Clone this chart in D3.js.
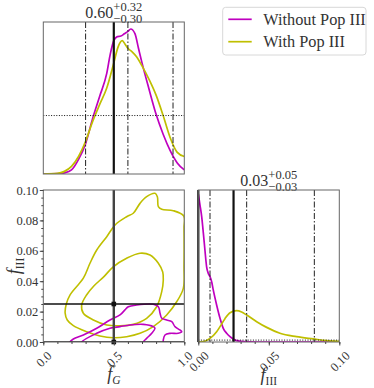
<!DOCTYPE html>
<html>
<head>
<meta charset="utf-8">
<script src="https://cdn.jsdelivr.net/npm/d3@7"></script>
<style>
body { margin: 0; background: #fff; }
text { font-family: "Liberation Serif", "DejaVu Serif", serif; fill: #333; }
</style>
</head>
<body>
<svg id="chart" width="374" height="388"></svg>
<script>

// ---- values ----
// 1D posterior of f_G (density)
var fgNoPop3X    = [0, 0.1, 0.15, 0.2, 0.25, 0.3, 0.35, 0.4, 0.45, 0.475, 0.5, 0.525, 0.55, 0.575, 0.6, 0.62, 0.65, 0.675, 0.7, 0.75, 0.8, 0.85, 0.9, 0.95, 1.0];
var fgNoPop3Dens = [0, 0.005, 0.02, 0.07, 0.25, 0.52, 0.95, 1.33, 1.72, 2.05, 2.28, 2.35, 2.36, 2.40, 2.44, 2.48, 2.40, 2.15, 1.90, 1.45, 1.02, 0.68, 0.40, 0.19, 0.07];
var fgPop3X      = [0, 0.1, 0.15, 0.2, 0.25, 0.3, 0.35, 0.4, 0.45, 0.5, 0.53, 0.56, 0.58, 0.6, 0.63, 0.66, 0.7, 0.75, 0.8, 0.85, 0.9, 0.95, 1.0];
var fgPop3Dens   = [0, 0.01, 0.045, 0.13, 0.30, 0.56, 0.90, 1.19, 1.47, 1.90, 2.17, 2.28, 2.22, 2.15, 2.09, 2.01, 1.85, 1.62, 1.35, 1.00, 0.62, 0.37, 0.30];

// 1D posterior of f_III (density)
var f3NoPop3X    = [0, 0.0005, 0.0012, 0.0024, 0.0036, 0.0047, 0.0059, 0.0071, 0.0083, 0.0095, 0.0106, 0.013, 0.0154, 0.0177, 0.0201, 0.0225, 0.0248, 0.0272, 0.0319, 0.0414, 0.06, 0.1];
var f3NoPop3Dens = [78, 75.6, 72.1, 66, 57.2, 48.4, 39.6, 36.1, 34.4, 31.6, 27.4, 19.5, 12.5, 7.2, 4.6, 2.8, 1.6, 0.7, 0.18, 0, 0, 0];
var f3Pop3X      = [0, 0.0035, 0.0083, 0.013, 0.0154, 0.0189, 0.0225, 0.0272, 0.0307, 0.0343, 0.0414, 0.0485, 0.0579, 0.0697, 0.0816, 0.091, 0.1];
var f3Pop3Dens   = [0, 0.2, 1.9, 5.4, 8.1, 12.3, 15.4, 16.5, 15.8, 14.2, 10.7, 7.7, 4.6, 2.8, 1.6, 0.7, 0.35];

// 2D credible contours [f_G, f_III]
var pop3Outer = [[0.189,0.0309],[0.163,0.025],[0.155,0.019],[0.17,0.0145],[0.213,0.0108],[0.308,0.0068],[0.402,0.0040],[0.496,0.0028],[0.591,0.0035],[0.686,0.0057],[0.780,0.0101],[0.875,0.0178],[0.946,0.0265],[0.993,0.0353],[0.998,0.05],[0.998,0.075],[0.996,0.0829],[0.922,0.0864],[0.840,0.0873],[0.816,0.0890],[0.809,0.0956],[0.792,0.0978],[0.733,0.0956],[0.686,0.0912],[0.638,0.0847],[0.591,0.0824],[0.509,0.0770],[0.450,0.0693],[0.379,0.0605],[0.331,0.0518],[0.284,0.0420]];
var pop3Inner = [[0.272,0.0243],[0.284,0.0189],[0.355,0.0145],[0.450,0.0112],[0.544,0.0107],[0.638,0.0116],[0.733,0.0156],[0.804,0.0232],[0.840,0.0331],[0.851,0.0408],[0.847,0.046],[0.816,0.0518],[0.757,0.0572],[0.686,0.0584],[0.591,0.0551],[0.496,0.0495],[0.43,0.043],[0.36,0.037],[0.308,0.0311]];
var noPop3Outer = [[0.185,-0.002],[0.189,0],[0.213,0.002],[0.284,0.0046],[0.379,0.009],[0.473,0.0145],[0.544,0.0178],[0.579,0.0211],[0.603,0.0232],[0.662,0.0243],[0.780,0.0248],[0.816,0.0232],[0.828,0.0189],[0.840,0.0156],[0.875,0.0145],[0.911,0.0134],[0.934,0.0101],[0.969,0.0079],[0.982,0.0068],[0.957,0.0057],[0.899,0.0057],[0.863,0.0046],[0.851,0.0013],[0.851,-0.002]];
var noPop3Inner = [[0.268,-0.002],[0.272,0],[0.379,0.0057],[0.473,0.009],[0.544,0.0101],[0.615,0.0112],[0.709,0.0116],[0.780,0.0101],[0.792,0.009],[0.769,0.0057],[0.733,0.0024],[0.709,0],[0.705,-0.002]];

// quantiles, truths, prior level
var fgQuantiles = [0.30, 0.60, 0.92];
var f3Quantiles = [0.0083, 0.0343, 0.0823];
var fgTruths = [0.5];
var f3Truths = [0, 0.025];
var priorLevel = 1;

// labels and ticks
var seriesNames = ["Without Pop III", "With Pop III"];
var seriesColors = ["#bf00bf", "#bfbf00"];
var fgTicks = [0, 0.5, 1.0];
var fgMinorTicks = [0, 0.1, 0.2, 0.3, 0.4, 0.5, 0.6, 0.7, 0.8, 0.9, 1.0];
var f3Ticks = [0, 0.02, 0.04, 0.06, 0.08, 0.10];
var f3MinorTicks = d3.range(0, 0.1001, 0.005);
var f3TicksRight = [0, 0.05, 0.10];
var f3MinorTicksRight = d3.range(0, 0.1001, 0.01);

// ---- layout ----
var svg = d3.select("#chart");
var L = {x0: 43.3, x1: 184.3}, R = {x0: 198.3, x1: 339.3};
var upper = {y0: 22, y1: 174}, lower = {y0: 190, y1: 342};

var xFg = d3.scaleLinear().domain([0, 1]).range([L.x0, L.x1]);
var yTop = d3.scaleLinear().domain([0, 2.6]).range([upper.y1, upper.y0]);
var yF3 = d3.scaleLinear().domain([0, 0.1]).range([lower.y1, lower.y0]);
var xF3 = d3.scaleLinear().domain([0, 0.1]).range([R.x0, R.x1]);
var yBR = d3.scaleLinear().domain([0, 80]).range([lower.y1, lower.y0]);

var dashdot = "6,2,1.5,2";

// titles like 0.60^{+0.32}_{-0.30}, one text element each
function title(cx, base, main, sup, sub) {
  var t = svg.append("text").attr("y", base).style("font-size", "16px");
  var m = t.append("tspan").text(main);
  var s1 = t.append("tspan").attr("dy", -7.2).style("font-size", "12.5px").text(sup);
  var s2 = t.append("tspan").attr("dy", 11.6).style("font-size", "12.5px").text(sub);
  var w = m.node().getComputedTextLength();
  var w1 = s1.node().getComputedTextLength();
  var w2 = s2.node().getComputedTextLength();
  s2.attr("dx", -w1);
  t.attr("x", cx - (w + Math.max(w1, w2)) / 2);
}
title((L.x0 + L.x1) / 2, 18.3, "0.60", "+0.32", "\u22120.30");
title((R.x0 + R.x1) / 2, 186.3, "0.03", "+0.05", "\u22120.03");

// clip paths
function clip(id, x0, x1, y0, y1) {
  svg.append("clipPath").attr("id", id).append("rect")
    .attr("x", x0).attr("y", y0).attr("width", x1 - x0).attr("height", y1 - y0);
}
clip("cTop", L.x0, L.x1, upper.y0, upper.y1);
clip("cBL", L.x0, L.x1, lower.y0, lower.y1);
clip("cBR", R.x0, R.x1, lower.y0, lower.y1);

// ---- top panel: f_G marginal ----
var lineTop = d3.line().x(d => xFg(d[0])).y(d => yTop(d[1])).curve(d3.curveMonotoneX);
var gTop = svg.append("g").attr("clip-path", "url(#cTop)");
gTop.append("path").datum(d3.zip(fgNoPop3X, fgNoPop3Dens))
  .attr("d", lineTop).attr("fill", "none").attr("stroke", seriesColors[0]).attr("stroke-width", 1.7);
gTop.append("path").datum(d3.zip(fgPop3X, fgPop3Dens))
  .attr("d", lineTop).attr("fill", "none").attr("stroke", seriesColors[1]).attr("stroke-width", 1.7);

gTop.selectAll(".q").data(fgQuantiles).enter().append("line")
  .attr("x1", d => xFg(d)).attr("x2", d => xFg(d))
  .attr("y1", upper.y0).attr("y2", upper.y1)
  .attr("stroke", "#222").attr("stroke-width", 1).attr("stroke-dasharray", dashdot);
gTop.append("line")
  .attr("x1", L.x0).attr("x2", L.x1).attr("y1", yTop(priorLevel)).attr("y2", yTop(priorLevel))
  .attr("stroke", "#111").attr("stroke-width", 1).attr("stroke-dasharray", "1,1.6");
gTop.selectAll(".t").data(fgTruths).enter().append("line")
  .attr("x1", d => xFg(d)).attr("x2", d => xFg(d))
  .attr("y1", upper.y0).attr("y2", upper.y1)
  .attr("stroke", "#111").attr("stroke-width", 2.2);

// ---- bottom-left: 2D contours ----
var lineBL = d3.line().x(d => xFg(d[0])).y(d => yF3(d[1]));
var gBL = svg.append("g").attr("clip-path", "url(#cBL)");
[pop3Outer, pop3Inner].forEach(function(c) {
  gBL.append("path").datum(c)
    .attr("d", lineBL.curve(d3.curveCatmullRomClosed))
    .attr("fill", "none").attr("stroke", seriesColors[1]).attr("stroke-width", 1.6);
});
[noPop3Outer, noPop3Inner].forEach(function(c) {
  gBL.append("path").datum(c)
    .attr("d", lineBL.curve(d3.curveCatmullRom))
    .attr("fill", "none").attr("stroke", seriesColors[0]).attr("stroke-width", 1.6);
});
gBL.selectAll(".tv").data(fgTruths).enter().append("line")
  .attr("x1", d => xFg(d)).attr("x2", d => xFg(d))
  .attr("y1", lower.y0).attr("y2", lower.y1)
  .attr("stroke", "#444").attr("stroke-width", 2.4);
gBL.selectAll(".th").data(f3Truths).enter().append("line")
  .attr("x1", L.x0).attr("x2", L.x1)
  .attr("y1", d => yF3(d)).attr("y2", d => yF3(d))
  .attr("stroke", "#111").attr("stroke-width", 1.6);
svg.selectAll(".mk").data(f3Truths).enter().append("rect")
  .attr("x", xFg(fgTruths[0]) - 2.3).attr("y", d => yF3(d) - 2.3)
  .attr("width", 4.6).attr("height", 4.6).attr("fill", "#111");

// ---- bottom-right: f_III marginal ----
var lineBR = d3.line().x(d => xF3(d[0])).y(d => yBR(d[1])).curve(d3.curveMonotoneX);
var gBR = svg.append("g").attr("clip-path", "url(#cBR)");
gBR.append("path").datum(d3.zip(f3NoPop3X, f3NoPop3Dens))
  .attr("d", lineBR).attr("fill", "none").attr("stroke", seriesColors[0]).attr("stroke-width", 1.7);
gBR.append("path").datum(d3.zip(f3Pop3X, f3Pop3Dens))
  .attr("d", lineBR).attr("fill", "none").attr("stroke", seriesColors[1]).attr("stroke-width", 1.7);
gBR.selectAll(".q").data(f3Quantiles).enter().append("line")
  .attr("x1", d => xF3(d)).attr("x2", d => xF3(d))
  .attr("y1", lower.y0).attr("y2", lower.y1)
  .attr("stroke", "#222").attr("stroke-width", 1).attr("stroke-dasharray", dashdot);
gBR.append("line")
  .attr("x1", R.x0).attr("x2", R.x1).attr("y1", yBR(priorLevel)).attr("y2", yBR(priorLevel))
  .attr("stroke", "#111").attr("stroke-width", 1).attr("stroke-dasharray", "1,1.6");
svg.selectAll(".t3").data(f3Truths).enter().append("line")
  .attr("x1", d => xF3(d)).attr("x2", d => xF3(d))
  .attr("y1", lower.y0).attr("y2", lower.y1)
  .attr("stroke", "#111").attr("stroke-width", 2.2);

// ---- frames ----
[[L, upper], [L, lower], [R, lower]].forEach(function(p) {
  svg.append("rect").attr("x", p[0].x0).attr("y", p[1].y0)
    .attr("width", p[0].x1 - p[0].x0).attr("height", p[1].y1 - p[1].y0)
    .attr("fill", "none").attr("stroke", "#666").attr("stroke-width", 1);
});

// ---- axes ----
function rotateLabels(sel) {
  sel.selectAll(".tick text").each(function() {
    var t = d3.select(this);
    var w = this.getComputedTextLength();
    var off = 7 + (w + 13) / (2 * Math.SQRT2);
    t.attr("y", 0).attr("dy", "0.35em").attr("text-anchor", "middle")
      .attr("transform", "translate(0," + off + ") rotate(-45)");
  });
}
function styleAxis(g) {
  g.select(".domain").remove();
  g.selectAll(".tick line").attr("stroke", "#444");
  g.selectAll(".tick text").style("font-size", "12.5px").attr("fill", "#333")
    .style("font-family", "'Liberation Serif', 'DejaVu Serif', serif");
}

svg.append("g").attr("transform", "translate(0," + lower.y1 + ")")
  .call(d3.axisBottom(xFg).tickValues(fgMinorTicks).tickSize(2).tickFormat(""))
  .call(styleAxis);
svg.append("g").attr("transform", "translate(0," + lower.y1 + ")")
  .call(d3.axisBottom(xFg).tickValues(fgTicks).tickSize(3.5).tickFormat(d3.format(".1f")))
  .call(styleAxis).call(rotateLabels);

svg.append("g").attr("transform", "translate(" + L.x0 + ",0)")
  .call(d3.axisLeft(yF3).tickValues(f3MinorTicks).tickSize(2).tickFormat(""))
  .call(styleAxis);
svg.append("g").attr("transform", "translate(" + L.x0 + ",0)")
  .call(d3.axisLeft(yF3).tickValues(f3Ticks).tickSize(3.5).tickPadding(1.5).tickFormat(d3.format(".2f")))
  .call(styleAxis);

svg.append("g").attr("transform", "translate(0," + lower.y1 + ")")
  .call(d3.axisBottom(xF3).tickValues(f3MinorTicksRight).tickSize(2).tickFormat(""))
  .call(styleAxis);
svg.append("g").attr("transform", "translate(0," + lower.y1 + ")")
  .call(d3.axisBottom(xF3).tickValues(f3TicksRight).tickSize(3.5).tickFormat(d3.format(".2f")))
  .call(styleAxis).call(rotateLabels);

// axis titles
function fLabel(x, y, sub, bar, rot) {
  var g = svg.append("g")
    .attr("transform", "translate(" + x + "," + y + ")" + (rot ? " rotate(-90)" : ""));
  var t = g.append("text").attr("text-anchor", "middle");
  var f = t.append("tspan").style("font-style", "italic").style("font-size", "18px").text("f");
  var s = t.append("tspan").attr("dy", 4).style("font-size", "11.5px").text(sub.text);
  if (sub.italic) s.style("font-style", "italic");
  if (bar) {
    var b = f.node().getBBox();
    g.append("line").attr("x1", b.x + 2.5).attr("x2", b.x + b.width + 0.5)
      .attr("y1", b.y + 2).attr("y2", b.y + 2).attr("stroke", "#333").attr("stroke-width", 0.9);
  }
}
fLabel((L.x0 + L.x1) / 2, 380, {text: "G", italic: true}, true, false);
fLabel((R.x0 + R.x1) / 2, 381, {text: "III", italic: false}, false, false);
fLabel(20, (lower.y0 + lower.y1) / 2, {text: "III", italic: false}, false, true);

// ---- legend ----
var leg = svg.append("g");
leg.append("rect").attr("x", 222.7).attr("y", 7.3).attr("width", 143.3).attr("height", 47.7)
  .attr("rx", 3).attr("fill", "#fff").attr("stroke", "#d8d8d8").attr("stroke-width", 1);
seriesNames.forEach(function(name, i) {
  var y = 19.3 + i * 22.4;
  leg.append("line").attr("x1", 228.3).attr("x2", 251.7).attr("y1", y).attr("y2", y)
    .attr("stroke", seriesColors[i]).attr("stroke-width", 1.7);
  leg.append("text").attr("x", 263.3).attr("y", y + 5.3).style("font-size", "16.3px").text(name);
});

</script>
</body>
</html>
